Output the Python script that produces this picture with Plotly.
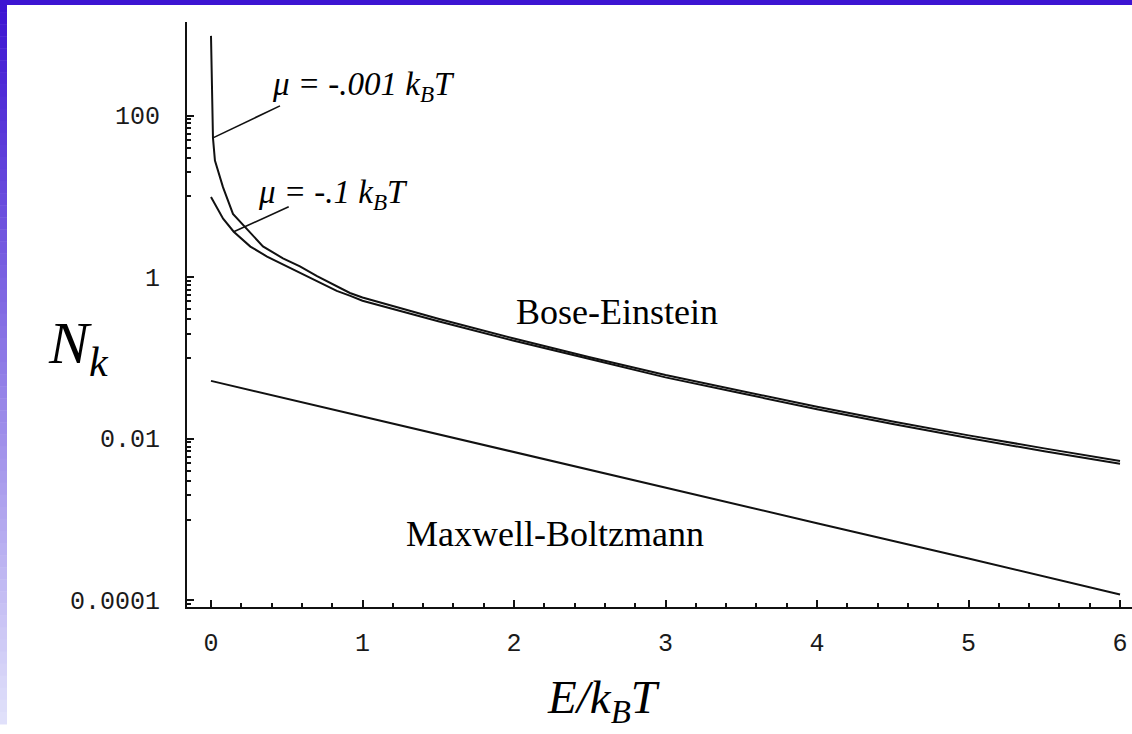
import plotly.graph_objects as go

W, H = 1132, 734

# Bose-Einstein occupancy, mu = -0.001 kT
e_be1 = [0, 0.013, 0.026, 0.079, 0.145, 0.238, 0.343, 0.475, 0.587, 0.70, 0.83, 0.917,
         1.0, 1.5, 2.0, 2.5, 3.0, 3.5, 4.0, 4.5, 5.0, 5.5, 6.0]
n_be1 = [970, 53, 27.8, 13.0, 6.07, 3.87, 2.40, 1.71, 1.36, 1.03, 0.776, 0.637,
         0.56, 0.306, 0.174, 0.102, 0.0614, 0.0391, 0.0249, 0.0163, 0.0110, 0.0076, 0.0053]

# Bose-Einstein occupancy, mu = -0.1 kT
e_be2 = [0, 0.08, 0.15, 0.26, 0.37, 0.475, 0.59, 0.70, 0.83, 0.92,
         1.0, 1.5, 2.0, 2.5, 3.0, 3.5, 4.0, 4.5, 5.0, 5.5, 6.0]
n_be2 = [9.8, 5.3, 3.65, 2.39, 1.80, 1.44, 1.12, 0.894, 0.675, 0.586,
         0.51, 0.285, 0.163, 0.097, 0.0575, 0.0365, 0.0232, 0.0152, 0.0102, 0.0070, 0.0049]

# Maxwell-Boltzmann occupancy
e_mb = [0, 1, 2, 3, 4, 5, 6]
n_mb = [0.052, 0.0188, 0.0068, 0.0025, 0.00090, 0.00033, 0.000118]

x_ticks = [0, 1, 2, 3, 4, 5, 6]
x_tick_text = ["0", "1", "2", "3", "4", "5", "6"]
y_ticks = [100, 1, 0.01, 0.0001]
y_tick_text = ["100", "1", "0.01", "0.0001"]

# minor log ticks: tenths of each labelled decade
y_minor = [m * k / 10 for m in y_ticks for k in range(1, 10)]


def px(x):
    return x / W


def py(y):
    return 1 - y / H


ink = "#111111"
line_style = dict(color=ink, width=2)

fig = go.Figure()
fig.add_trace(go.Scatter(x=e_be1, y=n_be1, mode="lines", line=line_style))
fig.add_trace(go.Scatter(x=e_be2, y=n_be2, mode="lines", line=line_style))
fig.add_trace(go.Scatter(x=e_mb, y=n_mb, mode="lines", line=line_style))

tick_font = dict(family="Liberation Mono", size=25, color="#1a1a1a")

fig.update_layout(
    width=W, height=H,
    margin=dict(l=0, r=0, t=0, b=0),
    paper_bgcolor="white", plot_bgcolor="white",
    showlegend=False,
    xaxis=dict(
        domain=[px(187), 1.0],
        range=[-0.1584, 6.079],
        showgrid=False, zeroline=False,
        showline=True, linecolor=ink, linewidth=2,
        ticks="inside", ticklen=7, tickwidth=1.5, tickcolor=ink,
        tickmode="array", tickvals=x_ticks, ticktext=x_tick_text,
        tickfont=tick_font, ticklabelstandoff=12,
        minor=dict(dtick=0.2, tick0=0, ticks="inside", ticklen=4,
                   tickwidth=1.5, tickcolor=ink, showgrid=False),
    ),
    yaxis=dict(
        type="log",
        domain=[py(615), py(22)],
        range=[-4.078, 3.162],
        showgrid=False, zeroline=False,
        showline=True, linecolor=ink, linewidth=2,
        ticks="inside", ticklen=7, tickwidth=1.5, tickcolor=ink,
        tickmode="array", tickvals=y_ticks, ticktext=y_tick_text,
        tickfont=tick_font, ticklabelstandoff=20,
        minor=dict(tickmode="array", tickvals=y_minor, ticks="inside",
                   ticklen=4, tickwidth=1.5, tickcolor=ink, showgrid=False),
    ),
)

# slide frame: solid top band and a fading left band
shapes = [dict(type="rect", xref="paper", yref="paper", x0=0, x1=1,
               y0=py(5), y1=1, fillcolor="#3c14d2", line=dict(width=0))]
top_rgb = (60, 20, 210)
bot_rgb = (224, 224, 250)
strips = 60
for i in range(strips):
    t = i / (strips - 1)
    r = round(top_rgb[0] + (bot_rgb[0] - top_rgb[0]) * t)
    g = round(top_rgb[1] + (bot_rgb[1] - top_rgb[1]) * t)
    b = round(top_rgb[2] + (bot_rgb[2] - top_rgb[2]) * t)
    y0 = H * i / strips
    y1 = H * (i + 1) / strips
    shapes.append(dict(type="rect", xref="paper", yref="paper",
                       x0=0, x1=px(7), y0=py(y1 + 0.5), y1=py(y0),
                       fillcolor=f"rgb({r},{g},{b})", line=dict(width=0)))

# leader lines: anchored on a curve sample, extending up-right in pixels
for e_val, n_val, dx, dy in [(e_be1[1], n_be1[1], 67, 32),
                             (e_be2[2], n_be2[2], 55, 25)]:
    shapes.append(dict(type="line", xref="x", yref="y",
                       xsizemode="pixel", ysizemode="pixel",
                       xanchor=e_val, yanchor=n_val,
                       x0=0, y0=0, x1=dx, y1=dy,
                       line=dict(color=ink, width=1.6)))
fig.update_layout(shapes=shapes)

serif = "Liberation Serif"
annos = [
    dict(text="<i>N<sub>k</sub></i>", x=px(46), y=py(352), xanchor="left",
         yanchor="middle", font=dict(family=serif, size=60, color="black")),
    dict(text="<i>E/k<sub>B</sub>T</i>", x=px(545), y=py(710), xanchor="left",
         yanchor="middle", font=dict(family=serif, size=47, color="black")),
    dict(text="<i>μ = -.001 k<sub>B</sub>T</i>", x=px(270), y=py(88), xanchor="left",
         yanchor="middle", font=dict(family=serif, size=33, color="black")),
    dict(text="<i>μ = -.1 k<sub>B</sub>T</i>", x=px(256), y=py(197), xanchor="left",
         yanchor="middle", font=dict(family=serif, size=33, color="black")),
    dict(text="Bose-Einstein", x=px(514), y=py(316), xanchor="left",
         yanchor="middle", font=dict(family=serif, size=36, color="black")),
    dict(text="Maxwell-Boltzmann", x=px(404), y=py(541), xanchor="left",
         yanchor="middle", font=dict(family=serif, size=36, color="black")),
]
for a in annos:
    a.update(xref="paper", yref="paper", showarrow=False)
fig.update_layout(annotations=annos)

fig.write_html("out.html")
